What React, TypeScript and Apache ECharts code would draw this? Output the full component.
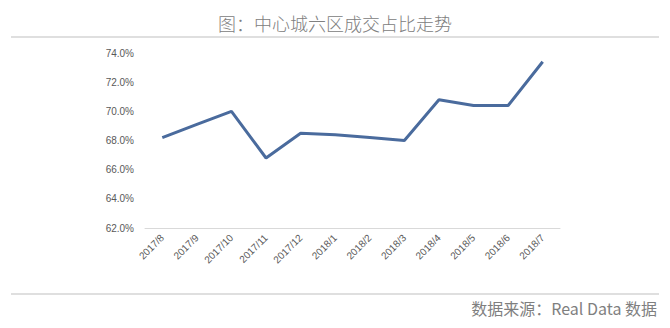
import React, { useEffect, useRef } from "react";
import * as echarts from "echarts";

const categories = ["2017/8", "2017/9", "2017/10", "2017/11", "2017/12", "2018/1", "2018/2", "2018/3", "2018/4", "2018/5", "2018/6", "2018/7"];
const shareValues = [68.2, 69.1, 70.0, 66.8, 68.5, 68.4, 68.2, 68.0, 70.8, 70.4, 70.4, 73.4];
const yMin = 62;
const yMax = 74;
const yInterval = 2;
const titleText = "图：中心城六区成交占比走势";
const sourceText = "数据来源：Real Data 数据";

export default function App() {
  const ref = useRef<HTMLDivElement>(null);
  useEffect(() => {
    if (!ref.current) return;
    const chart = echarts.init(ref.current, null, { renderer: "svg" });
    chart.setOption({
      animation: false,
      backgroundColor: "#ffffff",
      textStyle: { fontFamily: "Liberation Sans, Arial, sans-serif" },
      grid: { left: 145, right: 110, top: 53, bottom: 100 },
      graphic: [
        {
          type: "text",
          left: "center",
          top: 14,
          style: { text: titleText, fill: "#808080", font: '300 18px "Noto Sans CJK SC", sans-serif' },
        },
        { type: "line", shape: { x1: 11, y1: 37, x2: 659, y2: 37 }, style: { stroke: "#bfbfbf", lineWidth: 1 } },
        { type: "line", shape: { x1: 11, y1: 294, x2: 659, y2: 294 }, style: { stroke: "#bfbfbf", lineWidth: 1 } },
        {
          type: "text",
          right: 13,
          top: 300,
          style: { text: sourceText, fill: "#7f7f7f", font: '16px "Noto Sans CJK SC", sans-serif' },
        },
      ],
      xAxis: {
        type: "category",
        data: categories,
        boundaryGap: true,
        axisLine: { lineStyle: { color: "#d9d9d9", width: 1 } },
        axisTick: { show: false },
        axisLabel: { rotate: 45, color: "#595959", fontSize: 10, interval: 0, margin: 8 },
      },
      yAxis: {
        type: "value",
        min: yMin,
        max: yMax,
        interval: yInterval,
        axisLine: { show: false },
        axisTick: { show: false },
        splitLine: { show: false },
        axisLabel: {
          color: "#595959",
          fontSize: 10,
          margin: 11,
          formatter: (v: number) => v.toFixed(1) + "%",
        },
      },
      series: [
        {
          type: "line",
          data: shareValues,
          symbol: "none",
          lineStyle: { color: "#4a6b9d", width: 3 },
          itemStyle: { color: "#4a6b9d" },
        },
      ],
    });
    return () => chart.dispose();
  }, []);
  return <div ref={ref} style={{ width: 670, height: 328, position: "absolute", left: 0, top: 0 }} />;
}
